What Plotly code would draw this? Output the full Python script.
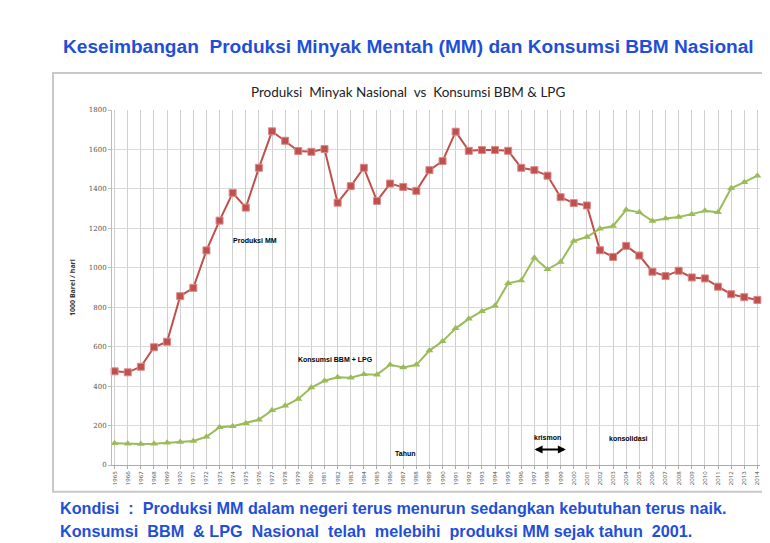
import plotly.graph_objects as go

years = [str(y) for y in range(1965, 2015)]

produksi_mm = [475, 470, 498, 597, 625, 856, 898, 1088, 1239, 1380,
               1305, 1507, 1692, 1644, 1592, 1588, 1602, 1330, 1414, 1507,
               1339, 1427, 1410, 1390, 1495, 1541, 1690, 1593, 1597, 1597,
               1593, 1507, 1495, 1467, 1358, 1328, 1316, 1089, 1055, 1111,
               1062, 980, 958, 985, 951, 946, 904, 866, 851, 837]

konsumsi_bbm_lpg = [110, 108, 107, 108, 113, 117, 122, 143, 192, 197,
                    212, 230, 277, 300, 335, 393, 427, 445, 443, 460,
                    458, 508, 495, 508, 580, 627, 693, 741, 780, 808,
                    922, 936, 1051, 992, 1029, 1136, 1156, 1198, 1212, 1294,
                    1281, 1237, 1250, 1257, 1272, 1289, 1281, 1403, 1434, 1467]

y_ticks = [0, 200, 400, 600, 800, 1000, 1200, 1400, 1600, 1800]

RED = "#c0504d"
GREEN = "#9bbb59"
BLUE = "#1f4fd8"

fig = go.Figure()
fig.add_trace(go.Scatter(
    x=years, y=produksi_mm, mode="lines+markers", name="Produksi MM",
    line=dict(color=RED, width=2),
    marker=dict(symbol="square", size=7, color=RED, line=dict(color="#d88a88", width=1)),
    cliponaxis=False,
))
fig.add_trace(go.Scatter(
    x=years, y=konsumsi_bbm_lpg, mode="lines+markers", name="Konsumsi BBM + LPG",
    line=dict(color=GREEN, width=2),
    marker=dict(symbol="triangle-up", size=7, color=GREEN),
    cliponaxis=False,
))

ann_font = dict(family="Liberation Sans", size=7, color="black")
annotations = [
    dict(x=10.7, y=1137, xref="x", yref="y", text="<b>Produksi MM</b>", showarrow=False, font=ann_font),
    dict(x=16.8, y=534, xref="x", yref="y", text="<b>Konsumsi BBM + LPG</b>", showarrow=False, font=ann_font),
    dict(x=22.1, y=60, xref="x", yref="y", text="<b>Tahun</b>", showarrow=False, font=ann_font),
    dict(x=33.0, y=140, xref="x", yref="y", text="<b>krismon</b>", showarrow=False, font=ann_font),
    dict(x=39.2, y=135, xref="x", yref="y", text="<b>konsolidasi</b>", showarrow=False, font=ann_font),
    dict(x=34.4, y=78, ax=31.9, ay=78, xref="x", yref="y", axref="x", ayref="y",
         text="", showarrow=True, arrowhead=2, arrowside="end+start", arrowsize=0.8,
         arrowwidth=2, arrowcolor="black"),
    dict(x=0.457, y=1.180, xref="paper", yref="paper", xanchor="center", yanchor="middle",
         text="<b>Keseimbangan  Produksi Minyak Mentah (MM) dan Konsumsi BBM Nasional</b>",
         showarrow=False, font=dict(family="Liberation Sans", size=19.1, color=BLUE)),
    dict(x=-0.083, y=-0.121, xref="paper", yref="paper", xanchor="left", yanchor="middle",
         text="<b>Kondisi  :  Produksi MM dalam negeri terus menurun sedangkan kebutuhan terus naik.</b>",
         showarrow=False, font=dict(family="Liberation Sans", size=16.2, color=BLUE)),
    dict(x=-0.083, y=-0.186, xref="paper", yref="paper", xanchor="left", yanchor="middle",
         text="<b>Konsumsi  BBM  & LPG  Nasional  telah  melebihi  produksi MM sejak tahun  2001.</b>",
         showarrow=False, font=dict(family="Liberation Sans", size=16.2, color=BLUE)),
]

fig.update_layout(
    width=770, height=543,
    margin=dict(l=104, r=18, t=102, b=86),
    paper_bgcolor="white", plot_bgcolor="white",
    showlegend=False,
    title=dict(text="Produksi  Minyak Nasional  vs  Konsumsi BBM & LPG",
               x=0.457 * 648 / 770 + 104 / 770, xanchor="center",
               y=1 - 84 / 543, yanchor="middle",
               font=dict(family="Lato", size=13.5, color="#222")),
    xaxis=dict(
        type="category", range=[-0.2, 49.2],
        tickangle=-90, tickfont=dict(size=6, color="#444"),
        showgrid=True, gridcolor="#cfcfcf", gridwidth=1,
        showline=True, linecolor="#aaaaaa", ticks="outside", ticklen=3, tickcolor="#aaaaaa",
        zeroline=False,
    ),
    yaxis=dict(
        range=[0, 1800], tickvals=y_ticks,
        tickfont=dict(size=7, color="#555", family="DejaVu Serif"),
        showgrid=True, gridcolor="#d9d9d9", gridwidth=1,
        showline=True, linecolor="#bbbbbb", ticks="outside", ticklen=3, tickcolor="#bbbbbb",
        zeroline=False,
        title=dict(text="<b>1000 Barel / hari</b>", font=dict(size=7, color="#333"), standoff=12),
    ),
    annotations=annotations,
    shapes=[dict(type="rect", xref="paper", yref="paper",
                 x0=-0.091, x1=1.0077, y0=-0.075, y1=1.104,
                 line=dict(color="#c8c8c8", width=2), fillcolor="rgba(0,0,0,0)", layer="below")],
)

fig.write_html("out.html")
